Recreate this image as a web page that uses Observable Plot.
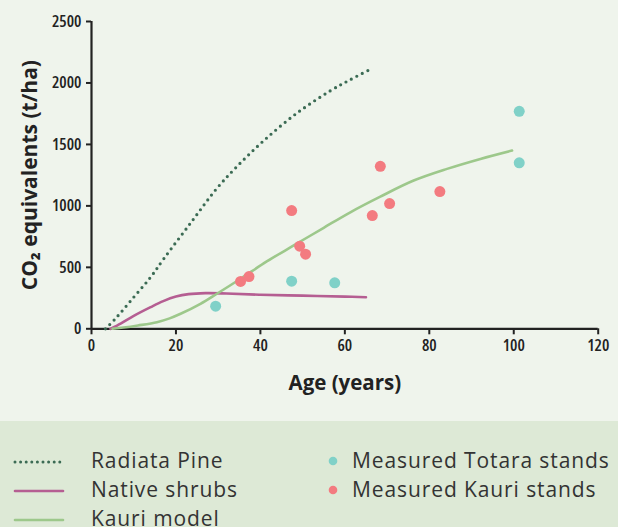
<!DOCTYPE html>
<html>
<head>
<meta charset="utf-8">
<script src="https://cdn.jsdelivr.net/npm/d3@7"></script>
<script src="https://cdn.jsdelivr.net/npm/@observablehq/plot@0.6"></script>
<style>
  html, body { margin: 0; padding: 0; background: #eff4ec; }
  #wrap { width: 618px; height: 527px; overflow: hidden; position: relative; }
  #legend { position: absolute; left: 0; top: 421px; width: 618px; height: 106px; background: #dde9d6; font-family: "Open Sans", sans-serif; color: #333; font-size: 21px; letter-spacing: 0.9px; }
  .lg { position: absolute; line-height: 1; white-space: nowrap; }
  .sw { position: absolute; }
  #chart g[aria-label="x-axis tick label"] text,
  #chart g[aria-label="y-axis tick label"] text { font-stretch: 75%; }
</style>
</head>
<body>
<div id="wrap">
  <div id="chart"></div>
  <div id="legend"></div>
</div>
<script>
// ---- data ----
const radiataAge = [3.3, 5.7, 10, 14, 17.1, 23.5, 29.7, 34.5, 40.8, 48.7, 56.6, 61.3, 66.2];
const radiataCO2 = [0, 84, 257, 420, 569, 862, 1143, 1322, 1531, 1756, 1937, 2027, 2114];

const shrubAge = [4.5, 7, 10, 14, 17, 20, 23, 27, 32, 40, 50, 60, 65];
const shrubCO2 = [0, 45, 105, 176, 225, 262, 282, 290, 287, 277, 270, 262, 257];

const kauriAge = [5, 7.6, 11, 15.5, 18.5, 21.1, 25.8, 29.7, 35.3, 41.6, 48, 55, 61.3, 68.4, 76.3, 84.2, 92.1, 99.6];
const kauriCO2 = [0, 10, 27, 54, 85, 122, 203, 285, 407, 550, 680, 822, 948, 1075, 1206, 1301, 1382, 1450];

const totaraAgeObs = [29.4, 47.4, 57.6, 101.3, 101.3];
const totaraCO2Obs = [184, 387, 374, 1769, 1350];

const kauriAgeObs = [35.3, 37.3, 47.4, 49.3, 50.7, 66.5, 68.4, 70.6, 82.5];
const kauriCO2Obs = [385, 425, 962, 672, 607, 921, 1322, 1019, 1116];

const xTicks = [0, 20, 40, 60, 80, 100, 120];
const yTicks = [0, 500, 1000, 1500, 2000, 2500];

const seriesNames = ["Radiata Pine", "Native shrubs", "Kauri model"];
const obsNames = ["Measured Totara stands", "Measured Kauri stands"];

// ---- tables built from arrays ----
const zip = (xs, ys) => xs.map((x, i) => ({x, y: ys[i]}));
const radiata = zip(radiataAge, radiataCO2);
const shrubs = zip(shrubAge, shrubCO2);
const kauri = zip(kauriAge, kauriCO2);
const totaraObs = zip(totaraAgeObs, totaraCO2Obs);
const kauriObs = zip(kauriAgeObs, kauriCO2Obs);

const C = {pine: "#3b6b54", shrub: "#b55e92", kauri: "#9dc88b", totara: "#80d1c8", kauriObs: "#f37b80", axis: "#222"};
const tickFont = "'Open Sans', 'DejaVu Sans', sans-serif";
const titleFont = "'Open Sans', sans-serif";

const chart = Plot.plot({
  width: 618,
  height: 421,
  marginLeft: 91,
  marginRight: 20.3,
  marginTop: 21,
  marginBottom: 92.7,
  x: {domain: [0, 120]},
  y: {domain: [0, 2500]},
  style: {background: "#eff4ec", color: C.axis, fontFamily: tickFont, fontSize: "16px"},
  marks: [
    Plot.axisX({ticks: xTicks, tickFormat: d3.format("d"), tickSize: 6, tickPadding: 4, label: null, strokeWidth: 2, fontSize: 16.5, fontWeight: 600, fontFamily: tickFont}),
    Plot.axisY({ticks: yTicks, tickFormat: d3.format("d"), tickSize: 5, tickPadding: 5, label: null, strokeWidth: 2, fontSize: 16.5, fontWeight: 600, fontFamily: tickFont}),
    Plot.ruleX([0], {stroke: C.axis, strokeWidth: 2.2}),
    Plot.ruleY([0], {stroke: C.axis, strokeWidth: 2.2}),
    Plot.line(radiata, {x: "x", y: "y", stroke: C.pine, strokeWidth: 3.2, strokeDasharray: "0 6.1", strokeLinecap: "round", curve: "catmull-rom"}),
    Plot.line(shrubs, {x: "x", y: "y", stroke: C.shrub, strokeWidth: 2.6, curve: "catmull-rom"}),
    Plot.line(kauri, {x: "x", y: "y", stroke: C.kauri, strokeWidth: 2.6, curve: "catmull-rom"}),
    Plot.dot(totaraObs, {x: "x", y: "y", r: 5.5, fill: C.totara}),
    Plot.dot(kauriObs, {x: "x", y: "y", r: 5.5, fill: C.kauriObs}),
    Plot.text(["CO₂ equivalents (t/ha)"], {frameAnchor: "left", dx: -61, rotate: -90, textAnchor: "middle", lineAnchor: "middle", fontSize: 21, fontWeight: 700, fontFamily: titleFont, fill: C.axis}),
    Plot.text(["Age (years)"], {frameAnchor: "bottom", dy: 55, textAnchor: "middle", lineAnchor: "middle", fontSize: 20.5, fontWeight: 700, fontFamily: titleFont, fill: C.axis})
  ]
});
document.getElementById("chart").appendChild(chart);

// ---- legend ----
const legend = document.getElementById("legend");
const rowsY = [41, 70, 99];
const lineStyles = [
  {stroke: C.pine, dash: "0 5.6", w: 3, x2: 63},
  {stroke: C.shrub, dash: null, w: 2.6, x2: 63},
  {stroke: C.kauri, dash: null, w: 2.6, x2: 63}
];
seriesNames.forEach((name, i) => {
  const s = lineStyles[i];
  const svg = d3.select(legend).append("svg").attr("class", "sw")
    .style("left", "0px").style("top", (rowsY[i] - 6) + "px")
    .attr("width", 90).attr("height", 12);
  const ln = svg.append("line").attr("x1", 15).attr("x2", s.x2).attr("y1", 6).attr("y2", 6)
    .attr("stroke", s.stroke).attr("stroke-width", s.w).attr("stroke-linecap", "round");
  if (s.dash) ln.attr("stroke-dasharray", s.dash);
  d3.select(legend).append("div").attr("class", "lg").text(name)
    .style("left", "91px").style("top", (rowsY[i] - 12) + "px");
});
const obsColors = [C.totara, C.kauriObs];
obsNames.forEach((name, i) => {
  const svg = d3.select(legend).append("svg").attr("class", "sw")
    .style("left", "326px").style("top", (rowsY[i] - 8) + "px")
    .attr("width", 14).attr("height", 14);
  svg.append("circle").attr("cx", 7).attr("cy", 7).attr("r", 4.3).attr("fill", obsColors[i]);
  d3.select(legend).append("div").attr("class", "lg").text(name)
    .style("left", "352px").style("top", (rowsY[i] - 12) + "px");
});
</script>
</body>
</html>
